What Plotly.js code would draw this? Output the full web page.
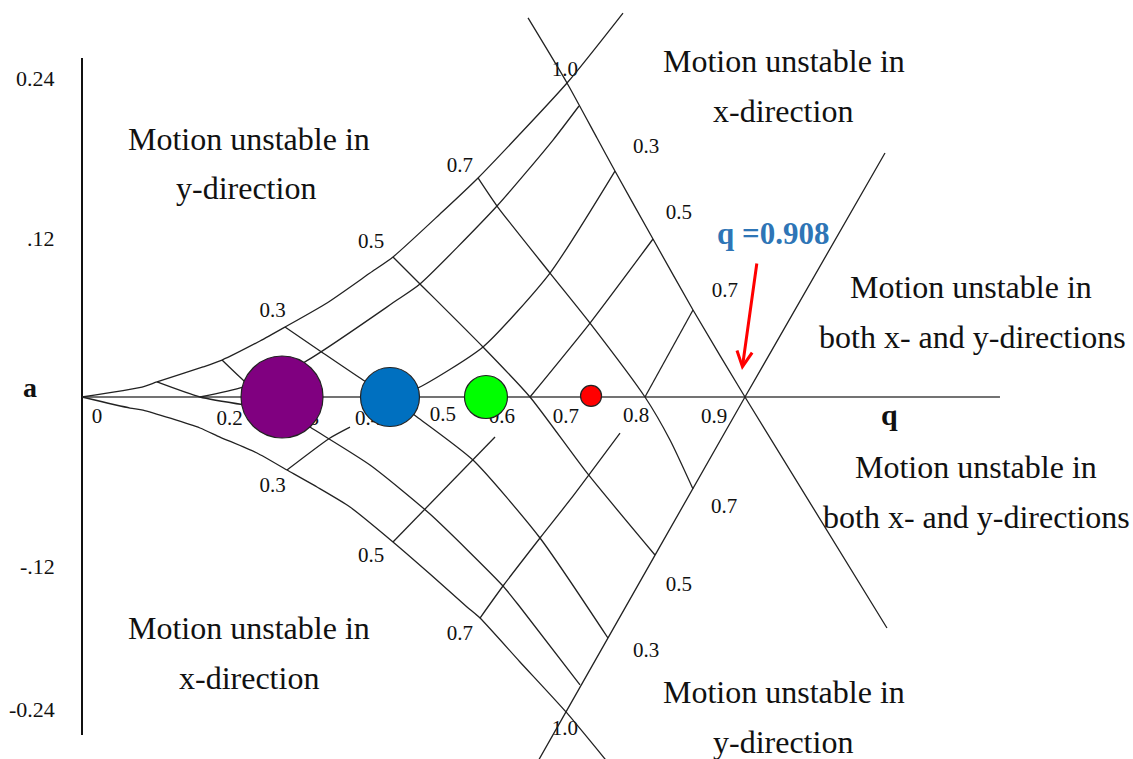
<!DOCTYPE html>
<html>
<head>
<meta charset="utf-8">
<script src="https://cdn.plot.ly/plotly-3.0.1.min.js"></script>
<style>html,body{margin:0;padding:0;background:#fff;}#chart{width:1133px;height:759px;}</style>
</head>
<body>
<div id="chart"></div>
<script>
// ---- Stability boundaries (q, a) ----
const upperBoundaryQ = [0, 0.0822, 0.1027, 0.1658, 0.1918, 0.2438, 0.2781, 0.3356, 0.3945, 0.4260, 0.4904, 0.5425, 0.6644, 0.7411];
const upperBoundaryA = [0, 0.0075, 0.0113, 0.0226, 0.0278, 0.0421, 0.0526, 0.0707, 0.0932, 0.1053, 0.1376, 0.1647, 0.2361, 0.2887];
const lowerBoundaryQ = [0, 0.0658, 0.0836, 0.1616, 0.1890, 0.2397, 0.2808, 0.3219, 0.3671, 0.4260, 0.4767, 0.5274, 0.5452, 0.6, 0.6630, 0.7288];
const lowerBoundaryA = [0, -0.0083, -0.0098, -0.0233, -0.0301, -0.0421, -0.0549, -0.0677, -0.0827, -0.1090, -0.1331, -0.1579, -0.1662, -0.1992, -0.2368, -0.2805];
const rightBoundaryQ = [0.6110, 0.6644, 0.7055, 0.7301, 0.7822, 0.8370, 0.9082, 1.1027];
const rightBoundaryA = [0.2850, 0.2361, 0.1947, 0.1699, 0.1188, 0.0654, 0, -0.1737];
const lowerRightBoundaryQ = [0.6178, 0.6630, 0.9082, 1.1];
const lowerRightBoundaryA = [-0.2805, -0.2368, 0, 0.1835];

// ---- iso-beta lines crossing the diagram ----
const g1Q = [0.1027, 0.1616, 0.2233];
const g1A = [0.0113, 0, -0.0060];
const g2Q = [0.1918, 0.2205, 0.2479, 0.3123, 0.3945, 0.4767, 0.5767, 0.6, 0.6822];
const g2A = [0.0278, 0.0128, 0, -0.0226, -0.0511, -0.0880, -0.1421, -0.1579, -0.2165];
const g3Q = [0.2781, 0.3301, 0.3849, 0.4219, 0.4589, 0.5356, 0.6274, 0.7205];
const g3A = [0.0526, 0.0331, 0.0128, 0, -0.0150, -0.0474, -0.1060, -0.1812];
const g4Q = [0.4260, 0.4630, 0.5493, 0.6137, 0.6918, 0.7849];
const g4A = [0.1053, 0.0850, 0.0376, 0, -0.0571, -0.1188];
const g5Q = [0.5425, 0.5685, 0.6411, 0.6959, 0.7712, 0.8055, 0.8370];
const g5A = [0.1647, 0.1436, 0.0932, 0.0556, 0, -0.0323, -0.0692];

const h1Q = [0.1616, 0.2205, 0.3027, 0.4315, 0.4630, 0.5685, 0.6452, 0.6808];
const h1A = [0, 0.0075, 0.0256, 0.0729, 0.0850, 0.1436, 0.1932, 0.2188];
const h2Q = [0.4219, 0.4603, 0.5493, 0.6411, 0.7301];
const h2A = [0, 0.0068, 0.0376, 0.0932, 0.1699];
const h3Q = [0.6137, 0.6959, 0.7822];
const h3A = [0, 0.0556, 0.1188];
const h4Q = [0.7712, 0.8370];
const h4A = [0, 0.0654];

const k1Q = [0.2808, 0.3397, 0.3671];
const k1A = [-0.0549, -0.0308, -0.0226];
const k2Q = [0.4260, 0.5658];
const k2A = [-0.1090, -0.0301];
const k3Q = [0.5452, 0.5767, 0.6274, 0.6685, 0.7370];
const k3A = [-0.1662, -0.1421, -0.1060, -0.0774, -0.0271];

// ---- axes lines ----
const qAxisQ = [0, 1.2575];
const qAxisA = [0, 0];
const aAxisQ = [0, 0];
const aAxisA = [0.2549, -0.2541];

// ---- ions (circles) ----
const ionQ = [0.2740, 0.4219, 0.5534, 0.6973];
const ionA = [0, 0, 0, 0.0008];
const ionSize = [82, 59, 43, 21];
const ionColor = ['#800080', '#0070C0', '#00FF00', '#FF0000'];

// ---- q tick labels ----
const qTickText = ['0', '0.2', '0.3', '0.4', '0.5', '0.6', '0.7', '0.8', '0.9'];
const qTickQ = [0.0205, 0.2021, 0.3068, 0.3918, 0.4945, 0.5753, 0.6630, 0.7589, 0.8658];
const qTickA = [-0.0158, -0.0173, -0.0173, -0.0173, -0.0143, -0.0158, -0.0158, -0.0150, -0.0158];

// ---- a tick labels ----
const aTickText = ['0.24', '.12', '-.12', '-0.24'];
const aTickA = [0.2398, 0.1195, -0.1278, -0.2353];

// ---- beta labels on boundaries ----
const betaText = ['0.3', '0.5', '0.7', '1.0', '0.3', '0.5', '0.7', '0.3', '0.5', '0.7', '1.0', '0.7', '0.5', '0.3'];
const betaQ = [0.2610, 0.3959, 0.5178, 0.6616, 0.7726, 0.8178, 0.8808, 0.2610, 0.3959, 0.5178, 0.6616, 0.8795, 0.8178, 0.7726];
const betaA = [0.0639, 0.1158, 0.1733, 0.2451, 0.1872, 0.1376, 0.0789, -0.0677, -0.1203, -0.1789, -0.2504, -0.0835, -0.1421, -0.1917];

// ---- region captions ----
const regionText = ['Motion unstable in', 'y-direction', 'Motion unstable in', 'x-direction',
  'Motion unstable in', 'both x- and y-directions', 'Motion unstable in', 'both x- and y-directions',
  'Motion unstable in', 'x-direction', 'Motion unstable in', 'y-direction'];
const regionQ = [0.2288, 0.2247, 0.9616, 0.9603, 1.2178, 1.2192, 1.2247, 1.2247, 0.2288, 0.2288, 0.9616, 0.9603];
const regionA = [0.1940, 0.1571, 0.2526, 0.2150, 0.0827, 0.0451, -0.0526, -0.0902, -0.1737, -0.2113, -0.2218, -0.2594];

const SERIF = 'Liberation Serif, Times New Roman, serif';
const lineStyle = {color: '#222', width: 1.3, shape: 'spline', smoothing: 0.6};

function lineTrace(q, a, style) {
  return {type: 'scatter', mode: 'lines', x: q, y: a, line: style || lineStyle, hoverinfo: 'skip'};
}

const traces = [
  // labels drawn beneath the lines and circles
  {type: 'scatter', mode: 'text', x: qTickQ, y: qTickA, text: qTickText,
   textposition: 'middle center', textfont: {family: SERIF, size: 21, color: '#111'}, hoverinfo: 'skip'},
  {type: 'scatter', mode: 'text', x: betaQ, y: betaA, text: betaText,
   textposition: 'middle center', textfont: {family: SERIF, size: 21, color: '#111'}, hoverinfo: 'skip'},
  lineTrace(qAxisQ, qAxisA, {color: '#444', width: 1.5}),
  lineTrace(aAxisQ, aAxisA, {color: '#111', width: 2}),
  lineTrace(upperBoundaryQ, upperBoundaryA),
  lineTrace(lowerBoundaryQ, lowerBoundaryA),
  lineTrace(rightBoundaryQ, rightBoundaryA),
  lineTrace(lowerRightBoundaryQ, lowerRightBoundaryA),
  lineTrace(g1Q, g1A), lineTrace(g2Q, g2A), lineTrace(g3Q, g3A), lineTrace(g4Q, g4A), lineTrace(g5Q, g5A),
  lineTrace(h1Q, h1A), lineTrace(h2Q, h2A), lineTrace(h3Q, h3A), lineTrace(h4Q, h4A),
  lineTrace(k1Q, k1A), lineTrace(k2Q, k2A), lineTrace(k3Q, k3A),
  {type: 'scatter', mode: 'markers', x: ionQ, y: ionA,
   marker: {size: ionSize, color: ionColor, opacity: 1, line: {color: '#222', width: 1.2}}, hoverinfo: 'skip'}
];

const annotations = [];
for (let i = 0; i < aTickText.length; i++) {
  annotations.push({x: -0.0342, y: aTickA[i], xref: 'x', yref: 'y', text: aTickText[i], showarrow: false,
    xanchor: 'right', yanchor: 'middle', font: {family: SERIF, size: 22, color: '#111'}});
}
for (let i = 0; i < regionText.length; i++) {
  annotations.push({x: regionQ[i], y: regionA[i], xref: 'x', yref: 'y', text: regionText[i], showarrow: false,
    xanchor: 'center', yanchor: 'middle', font: {family: SERIF, size: 32, color: '#111'}});
}
annotations.push({x: -0.0712, y: 0.0068, xref: 'x', yref: 'y', text: '<b>a</b>', showarrow: false,
  font: {family: SERIF, size: 28, color: '#111'}});
annotations.push({x: 1.1068, y: -0.0135, xref: 'x', yref: 'y', text: '<b>q</b>', showarrow: false,
  font: {family: SERIF, size: 30, color: '#111'}});
annotations.push({x: 0.9466, y: 0.1233, xref: 'x', yref: 'y', text: '<b>q =0.908</b>', showarrow: false,
  font: {family: SERIF, size: 31, color: '#2E75B6'}});
annotations.push({x: 0.9041, y: 0.0203, xref: 'x', yref: 'y', axref: 'x', ayref: 'y', ax: 0.9247, ay: 0.1015,
  text: '', showarrow: true, arrowhead: 5, arrowsize: 1, arrowwidth: 3, arrowcolor: '#FF0000', standoff: 0});

const layout = {
  width: 1133, height: 759,
  margin: {l: 0, r: 0, t: 0, b: 0, pad: 0},
  paper_bgcolor: '#fff', plot_bgcolor: '#fff',
  showlegend: false, hovermode: false,
  xaxis: {range: [-0.11233, 1.43973], visible: false, fixedrange: true},
  yaxis: {range: [-0.27218, 0.29850], visible: false, fixedrange: true},
  annotations: annotations
};

Plotly.newPlot('chart', traces, layout, {staticPlot: true, displayModeBar: false});
</script>
</body>
</html>
